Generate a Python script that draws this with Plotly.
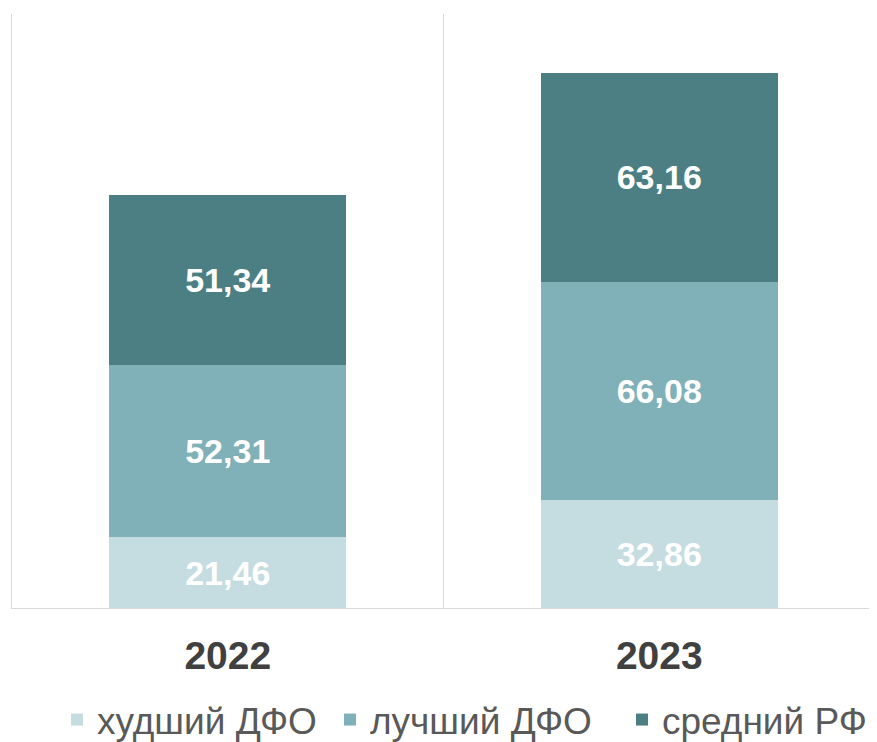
import plotly.graph_objects as go

years = ["2022", "2023"]
series_names = ["худший ДФО", "лучший ДФО", "средний РФ"]
worst_dfo = [21.46, 32.86]
best_dfo = [52.31, 66.08]
avg_rf = [51.34, 63.16]
colors = ["#c5dde0", "#80b1b8", "#4b7f84"]
legend_widths = [228, 247, 230]

fig = go.Figure()
for name, vals, col, lw in zip(series_names, [worst_dfo, best_dfo, avg_rf], colors, legend_widths):
    fig.add_trace(go.Bar(
        x=years, y=vals, name=name,
        marker=dict(color=col, line=dict(width=0)),
        texttemplate="%{y:.2f}",
        textposition="inside",
        insidetextanchor="middle",
        constraintext="none",
        textfont=dict(family="Liberation Sans", size=34, color="white", weight="bold"),
        hoverinfo="skip",
        legendwidth=lw,
    ))

fig.update_layout(
    width=869, height=734,
    barmode="stack",
    bargap=0.45,
    separators=", ",
    plot_bgcolor="white",
    paper_bgcolor="white",
    margin=dict(l=4, r=2, t=6, b=134, autoexpand=False),
    font=dict(family="Liberation Sans", color="#595959"),
    showlegend=True,
    legend=dict(
        orientation="h",
        xref="container", x=49 / 869, xanchor="left",
        yref="container", y=1 - 712 / 734, yanchor="middle",
        traceorder="normal",
        font=dict(size=37, color="#595959"),
        itemwidth=30,
        tracegroupgap=0,
    ),
)

fig.update_xaxes(
    type="category",
    tickson="boundaries",
    showgrid=True, gridcolor="#d9d9d9", gridwidth=1,
    showline=True, linecolor="#d9d9d9", linewidth=1,
    ticks="", ticklabelstandoff=13,
    tickfont=dict(family="Liberation Sans", size=39, color="#404040", weight="bold"),
    zeroline=False,
    automargin=False,
)
fig.update_yaxes(
    range=[0, 180],
    showticklabels=False,
    ticks="",
    showgrid=False,
    zeroline=False,
    showline=True, linecolor="#d9d9d9", linewidth=1, mirror=True,
    automargin=False,
)

fig.write_html("out.html")
